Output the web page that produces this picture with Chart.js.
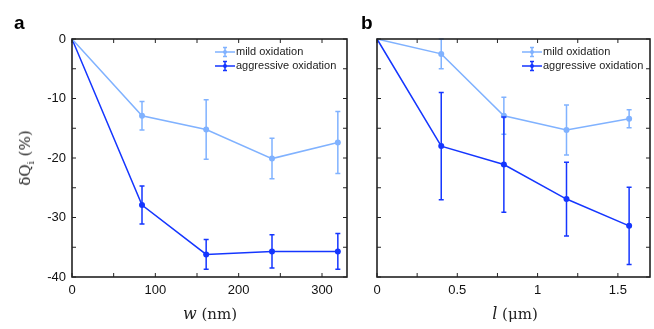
<!DOCTYPE html>
<html lang="en">
  <head>
    <meta charset="UTF-8" />
    <title>Oxidation: dQi vs w and l</title>
    <script src="https://cdn.jsdelivr.net/npm/chart.js@4.4.1/dist/chart.umd.min.js"></script>
    <style>
      body { margin: 0; background: #fff; }
      #wrap { position: relative; width: 654px; height: 329px; overflow: hidden; }
      .pane { position: absolute; top: 0; }
      .lbl { position: absolute; font-family: "Liberation Sans", Arial, sans-serif; font-weight: bold; font-size: 19px; color: #000; }
      .ttl { position: absolute; font-family: "DejaVu Serif", serif; font-size: 15px; color: #222; white-space: nowrap; transform: translate(-50%, -50%); }
      .ttl i { font-size: 16px; }
      .rot { transform: translate(-50%, -50%) rotate(-90deg); }
    </style>
  </head>
  <body>
    <div id="wrap">
      <div class="pane" style="left:0;width:355px;height:329px"><canvas id="chartA" width="355" height="329"></canvas></div>
      <div class="pane" style="left:355px;width:299px;height:329px"><canvas id="chartB" width="299" height="329"></canvas></div>
      <div class="lbl" style="left:14px;top:12px">a</div>
      <div class="lbl" style="left:361px;top:12px">b</div>
      <div class="ttl rot" style="left:25px;top:158px">δQ<span style="font-size:10px;position:relative;top:4px">i</span> (%)</div>
      <div class="ttl" style="left:210px;top:313px"><i>w</i> (nm)</div>
      <div class="ttl" style="left:515px;top:313px"><i>l</i> (μm)</div>
    </div>

    <script>
      // panel a: vs width w (nm)
      const wNm = [0, 84, 161, 240, 319];
      const mildA = [0, -12.9, -15.2, -20.1, -17.4];
      const mildAErr = [0, 2.4, 5.0, 3.4, 5.2];
      const aggrA = [0, -27.9, -36.2, -35.7, -35.7];
      const aggrAErr = [0, 3.2, 2.5, 2.8, 3.0];

      // panel b: vs length l (um)
      const lUm = [0, 0.4, 0.79, 1.18, 1.57];
      const mildB = [0, -2.5, -12.9, -15.3, -13.4];
      const mildBErr = [0, 2.5, 3.1, 4.2, 1.5];
      const aggrB = [0, -18.0, -21.1, -26.9, -31.4];
      const aggrBErr = [0, 9.0, 8.0, 6.2, 6.5];

      const seriesNames = ["mild oxidation", "aggressive oxidation"];
      // tick marks (every one) and the ones that get a label
      const yTicks = [0, -5, -10, -15, -20, -25, -30, -35, -40];
      const yTickLabels = [0, -10, -20, -30, -40];
      const xTicksA = [0, 50, 100, 150, 200, 250, 300];
      const xTickLabelsA = [0, 100, 200, 300];
      const xTicksB = [0, 0.25, 0.5, 0.75, 1, 1.25, 1.5];
      const xTickLabelsB = [0, 0.5, 1, 1.5];

      const MILD = "#80b2ff";
      const AGGR = "#1536ff";
      const tickFont = { family: "'Liberation Sans', Arial, sans-serif", size: 13 };

      const near = (v, list) => list.some((t) => Math.abs(t - v) < 1e-6);

      // error bars from each dataset's "errors" array
      const errorBars = {
        id: "errorBars",
        afterDatasetsDraw(chart) {
          const ctx = chart.ctx;
          const ys = chart.scales.y;
          chart.data.datasets.forEach((ds, i) => {
            const meta = chart.getDatasetMeta(i);
            ctx.save();
            ctx.strokeStyle = ds.borderColor;
            ctx.lineWidth = 1.5;
            meta.data.forEach((pt, j) => {
              const e = ds.errors[j];
              if (!e) return;
              const v = ds.data[j].y;
              const top = ys.getPixelForValue(Math.min(v + e, 0));
              const bot = ys.getPixelForValue(v - e);
              ctx.beginPath();
              ctx.moveTo(pt.x, top);
              ctx.lineTo(pt.x, bot);
              ctx.moveTo(pt.x - 2.5, top);
              ctx.lineTo(pt.x + 2.5, top);
              ctx.moveTo(pt.x - 2.5, bot);
              ctx.lineTo(pt.x + 2.5, bot);
              ctx.stroke();
            });
            ctx.restore();
          });
        },
      };

      // box frame with inward ticks on all four sides
      const frame = {
        id: "frame",
        afterDraw(chart) {
          const ctx = chart.ctx;
          const a = chart.chartArea;
          const xs = chart.scales.x;
          const ys = chart.scales.y;
          ctx.save();
          ctx.strokeStyle = "#222";
          ctx.lineWidth = 1;
          ctx.beginPath();
          xs.ticks.forEach((t) => {
            const px = xs.getPixelForValue(t.value);
            ctx.moveTo(px, a.bottom);
            ctx.lineTo(px, a.bottom - 4);
            ctx.moveTo(px, a.top);
            ctx.lineTo(px, a.top + 4);
          });
          ys.ticks.forEach((t) => {
            const py = ys.getPixelForValue(t.value);
            ctx.moveTo(a.left, py);
            ctx.lineTo(a.left + 4, py);
            ctx.moveTo(a.right, py);
            ctx.lineTo(a.right - 4, py);
          });
          ctx.stroke();
          ctx.lineWidth = 1.6;
          ctx.strokeRect(a.left, a.top, a.right - a.left, a.bottom - a.top);
          ctx.restore();
        },
      };

      // legend with error-bar symbols, inside the plot
      const errLegend = {
        id: "errLegend",
        afterDraw(chart, args, opts) {
          const ctx = chart.ctx;
          const a = chart.chartArea;
          const x0 = a.left + opts.dx;
          ctx.save();
          chart.data.datasets.forEach((ds, i) => {
            const y = a.top + 13 + i * 14;
            ctx.strokeStyle = ds.borderColor;
            ctx.fillStyle = ds.borderColor;
            ctx.lineWidth = 1.5;
            ctx.beginPath();
            ctx.moveTo(x0, y);
            ctx.lineTo(x0 + 20, y);
            ctx.moveTo(x0 + 10, y - 4.5);
            ctx.lineTo(x0 + 10, y + 4.5);
            ctx.moveTo(x0 + 8, y - 4.5);
            ctx.lineTo(x0 + 12, y - 4.5);
            ctx.moveTo(x0 + 8, y + 4.5);
            ctx.lineTo(x0 + 12, y + 4.5);
            ctx.stroke();
            ctx.beginPath();
            ctx.arc(x0 + 10, y, 2, 0, Math.PI * 2);
            ctx.fill();
            ctx.fillStyle = "#222";
            ctx.font = "11px 'Liberation Sans', Arial, sans-serif";
            ctx.textBaseline = "middle";
            ctx.fillText(ds.label, x0 + 21, y);
          });
          ctx.restore();
        },
      };

      function makeDataset(label, xs, ys, errs, color) {
        return {
          label: label,
          data: xs.map((x, i) => ({ x: x, y: ys[i] })),
          errors: errs,
          showLine: true,
          borderColor: color,
          backgroundColor: color,
          borderWidth: 1.5,
          pointRadius: (c) => (c.dataIndex === 0 ? 0 : 3),
          pointBorderWidth: 0,
          clip: false,
        };
      }

      function makeChart(id, xs, mild, mildErr, aggr, aggrErr, xMax, xTicks, xLabels, yWidth, showY, padRight, legendDx) {
        return new Chart(document.getElementById(id), {
          type: "scatter",
          data: {
            datasets: [
              makeDataset(seriesNames[0], xs, mild, mildErr, MILD),
              makeDataset(seriesNames[1], xs, aggr, aggrErr, AGGR),
            ],
          },
          options: {
            responsive: false,
            animation: false,
            layout: { padding: { left: 0, right: padRight, top: 39, bottom: 0 } },
            scales: {
              x: {
                type: "linear",
                min: 0,
                max: xMax,
                grid: { display: false, drawTicks: false },
                border: { display: false },
                afterBuildTicks: (s) => { s.ticks = xTicks.map((v) => ({ value: v })); },
                ticks: {
                  padding: 6,
                  maxRotation: 0,
                  autoSkip: false,
                  font: tickFont,
                  color: "#111",
                  callback: (v) => (near(v, xLabels) ? String(v) : ""),
                },
                afterFit: (s) => { s.height = 52; },
              },
              y: {
                min: -40,
                max: 0,
                grid: { display: false, drawTicks: false },
                border: { display: false },
                afterBuildTicks: (s) => { s.ticks = yTicks.map((v) => ({ value: v })); },
                ticks: {
                  display: showY,
                  padding: 6,
                  autoSkip: false,
                  font: tickFont,
                  color: "#111",
                  callback: (v) => (near(v, yTickLabels) ? String(v) : ""),
                },
                afterFit: (s) => { s.width = yWidth; },
              },
            },
            plugins: {
              legend: { display: false },
              tooltip: { enabled: false },
              errLegend: { dx: legendDx },
            },
          },
          plugins: [errorBars, frame, errLegend],
        });
      }

      makeChart("chartA", wNm, mildA, mildAErr, aggrA, aggrAErr, 330, xTicksA, xTickLabelsA, 72, true, 8, 143);
      makeChart("chartB", lUm, mildB, mildBErr, aggrB, aggrBErr, 1.7, xTicksB, xTickLabelsB, 22, false, 1, 145);
    </script>
  </body>
</html>
